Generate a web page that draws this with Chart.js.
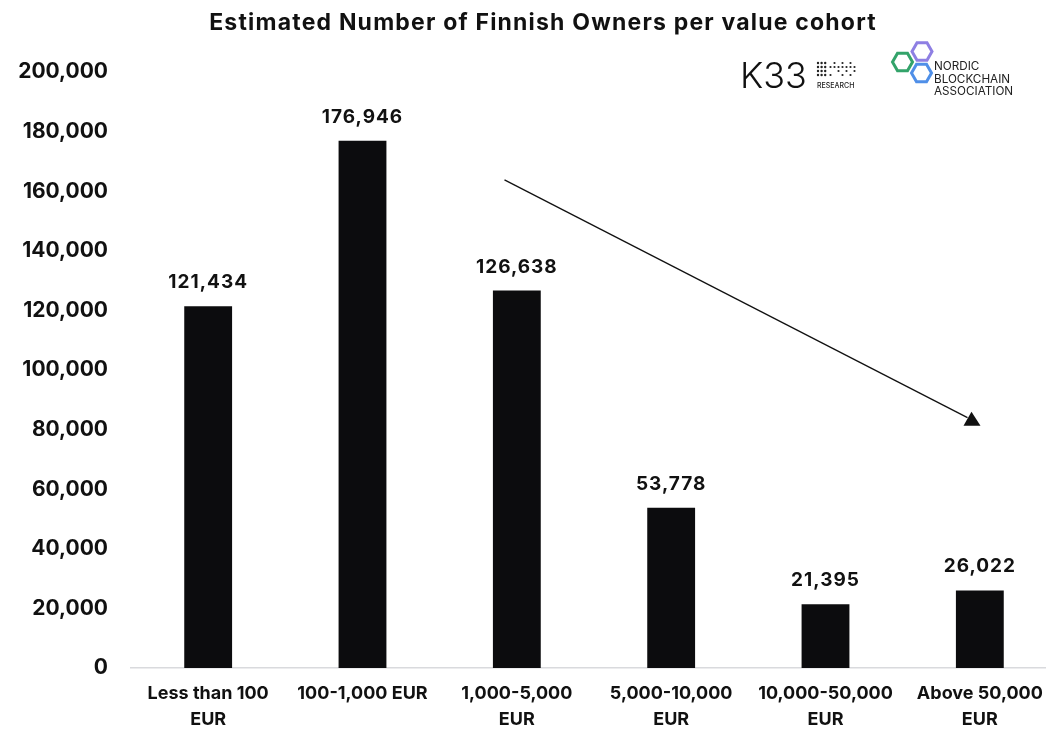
<!DOCTYPE html>
<html>
<head>
<meta charset="utf-8">
<script src="https://cdn.jsdelivr.net/npm/chart.js@4.4.1/dist/chart.umd.min.js"></script>
<style>
html,body{margin:0;padding:0;background:#fff;overflow:hidden;}
#wrap{width:1060px;height:729px;position:relative;}
</style>
</head>
<body>
<div id="wrap"><canvas id="c"></canvas></div>
<script>
const categories = [["Less than 100","EUR"],"100-1,000 EUR",["1,000-5,000","EUR"],["5,000-10,000","EUR"],["10,000-50,000","EUR"],["Above 50,000","EUR"]];
const owners = [121434, 176946, 126638, 53778, 21395, 26022];
const yTicks = [0, 20000, 40000, 60000, 80000, 100000, 120000, 140000, 160000, 180000, 200000];
const titleText = "Estimated Number of Finnish Owners per value cohort";
// trend arrow in data units: [category index, value]
const arrowStart = [1.92, 163800];
const arrowEnd = [4.92, 84000];

const FONT = "Inter, 'DejaVu Sans', sans-serif";
const fmt = v => v.toLocaleString('en-US');

const decor = {
  id: 'decor',
  afterDatasetsDraw(chart) {
    const ctx = chart.ctx;
    const xs = chart.scales.x, ys = chart.scales.y;
    ctx.save();
    // value labels
    const meta = chart.getDatasetMeta(0);
    ctx.fillStyle = '#111';
    ctx.font = "700 19px " + FONT;
    ctx.letterSpacing = '1px';
    ctx.textAlign = 'center';
    ctx.textBaseline = 'alphabetic';
    meta.data.forEach((bar, i) => {
      ctx.fillText(fmt(owners[i]), bar.x, bar.y - 18);
    });
    ctx.letterSpacing = '0px';
    // arrow
    const x0 = xs.getPixelForValue(arrowStart[0]), y0 = ys.getPixelForValue(arrowStart[1]);
    const x1 = xs.getPixelForValue(arrowEnd[0]), y1 = ys.getPixelForValue(arrowEnd[1]);
    ctx.strokeStyle = '#111';
    ctx.lineWidth = 1.3;
    ctx.beginPath(); ctx.moveTo(x0, y0); ctx.lineTo(x1, y1); ctx.stroke();
    ctx.fillStyle = '#111';
    ctx.beginPath();
    ctx.moveTo(x1 + 4, y1 - 6);
    ctx.lineTo(x1 + 13, y1 + 8);
    ctx.lineTo(x1 - 4, y1 + 8);
    ctx.closePath(); ctx.fill();
    ctx.restore();
  },
  afterDraw(chart) {
    const ctx = chart.ctx;
    ctx.save();
    // title
    ctx.fillStyle = '#111';
    ctx.font = "700 23px " + FONT;
    ctx.letterSpacing = '1.2px';
    ctx.textAlign = 'center';
    ctx.textBaseline = 'middle';
    ctx.fillText(titleText, 543, 23);
    ctx.letterSpacing = '0px';
    // K33 logo
    ctx.textAlign = 'left';
    ctx.textBaseline = 'alphabetic';
    ctx.font = "300 36px " + FONT;
    ctx.fillText("K33", 740, 88);
    ctx.fillStyle = '#222';
    const dot = (x, y, r) => { ctx.beginPath(); ctx.arc(x, y, r, 0, Math.PI * 2); ctx.fill(); };
    for (let r = 0; r < 4; r++) for (let c = 0; c < 3; c++) dot(818 + c * 3.6, 63 + r * 4, 1.2);
    const sparse = [[830,67],[834,67],[838,67],[842,67],[846,67],[850,67],[854,67],[834,63],[842,63],[850,63],[838,71],[846,71],[854,71],[830,75],[842,75],[850,75]];
    sparse.forEach(p => dot(p[0] + 0.5, p[1], 1.1));
    ctx.font = "500 7px " + FONT;
    ctx.fillText("RESEARCH", 817, 88);
    // Nordic Blockchain Association logo
    const hex = (cx, cy, r, col) => {
      ctx.strokeStyle = col; ctx.lineWidth = 3;
      ctx.beginPath();
      for (let k = 0; k < 6; k++) {
        const a = Math.PI / 3 * k;
        const px = cx + r * Math.cos(a), py = cy + r * Math.sin(a);
        if (k === 0) ctx.moveTo(px, py); else ctx.lineTo(px, py);
      }
      ctx.closePath(); ctx.stroke();
    };
    hex(902.5, 62, 10, '#33a36a');
    hex(922, 51.5, 10, '#8e7fe3');
    hex(921.5, 73, 10, '#4f8fe8');
    ctx.fillStyle = '#222';
    ctx.font = "400 11.7px " + FONT;
    ctx.fillText("NORDIC", 934, 70);
    ctx.fillText("BLOCKCHAIN", 934, 83);
    ctx.fillText("ASSOCIATION", 934, 95);
    ctx.restore();
  }
};

new Chart(document.getElementById('c'), {
  type: 'bar',
  data: {
    labels: categories,
    datasets: [{
      data: owners,
      backgroundColor: '#0c0c0e',
      borderWidth: 0,
      barPercentage: 1,
      categoryPercentage: 0.31
    }]
  },
  options: {
    responsive: true,
    maintainAspectRatio: false,
    animation: false,
    layout: { padding: { top: 72, right: 3, left: 0, bottom: 0 } },
    plugins: { legend: { display: false }, tooltip: { enabled: false }, title: { display: false } },
    scales: {
      x: {
        grid: { display: false, drawTicks: false },
        border: { display: true, color: '#d9dadd', width: 1.5 },
        ticks: { color: '#111', font: { family: FONT, weight: '700', size: 18, lineHeight: 1.42 }, padding: 13, maxRotation: 0, autoSkip: false },
        afterFit(s) { s.height = 61; }
      },
      y: {
        min: 0, max: 200000,
        afterBuildTicks(s) { s.ticks = yTicks.map(v => ({ value: v })); },
        grid: { display: false, drawTicks: false },
        border: { display: false },
        ticks: { color: '#111', font: { family: FONT, weight: '700', size: 21 }, padding: 23, callback: v => fmt(v) },
        afterFit(s) { s.width = 131; }
      }
    }
  },
  plugins: [decor]
});
</script>
</body>
</html>
